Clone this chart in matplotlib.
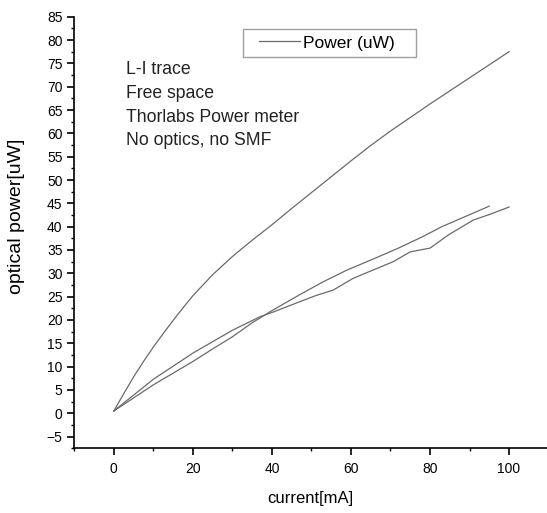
import matplotlib
matplotlib.use("Agg")
import matplotlib.pyplot as plt
from matplotlib.ticker import MultipleLocator
from matplotlib.legend_handler import HandlerLine2D

plt.rcParams['font.family'] = ['Liberation Sans', 'DejaVu Sans']

# Sweep 1 (upper, steep curve)
x_up = [0, 2.5, 5, 7.5, 10, 12.5, 15, 17.5, 20, 25, 30, 35, 40, 45, 50, 55, 60, 65, 70, 75, 80, 85, 90, 95, 100]
y_up = [0.5, 4.2, 7.8, 11.1, 14.2, 17.1, 19.9, 22.6, 25.2, 29.7, 33.6, 37.1, 40.4, 43.9, 47.3, 50.7,
        54.1, 57.4, 60.5, 63.4, 66.3, 69.1, 71.9, 74.7, 77.5]

# Sweep 2 (smooth lower curve, ends at 95 mA)
x_mid = [0, 10, 20, 25, 30, 35, 40, 47, 53, 59, 66, 72, 78, 83, 89, 95]
y_mid = [0.5, 6.1, 11.1, 13.8, 16.4, 19.4, 22.0, 25.4, 28.2, 30.7, 33.2, 35.4, 37.8, 40.0, 42.2, 44.4]

# Sweep 3 (bumpy lower curve, ends at 100 mA)
x_low = [0, 10, 20, 30, 37, 40, 47, 51, 55.5, 60.5, 65, 70.7, 75, 80, 84.6, 90.9, 95, 100]
y_low = [0.5, 7.3, 12.9, 17.8, 20.7, 21.6, 23.9, 25.2, 26.4, 28.9, 30.5, 32.5, 34.6, 35.4, 38.2, 41.4, 42.6, 44.2]

annotations = ["L-I trace", "Free space", "Thorlabs Power meter", "No optics, no SMF"]
series_label = "Power (uW)"
x_label = "current[mA]"
y_label = "optical power[uW]"

W, H = 547, 513
fig = plt.figure(figsize=(W / 100, H / 100), dpi=100)
left, top, bottom, right = 74.3, 16.7, 448.3, 547
ax = fig.add_axes([left / W, 1 - bottom / H, (right - left) / W, (bottom - top) / H])

lc = '#6a6a6a'
ax.plot(x_up, y_up, color=lc, lw=0.9, label=series_label)
ax.plot(x_mid, y_mid, color=lc, lw=0.9)
ax.plot(x_low, y_low, color=lc, lw=0.9)

ax.set_xlim(-10, 109.6)
ax.set_ylim(-7.5, 85)
ax.xaxis.set_major_locator(MultipleLocator(20))
ax.xaxis.set_minor_locator(MultipleLocator(10))
ax.yaxis.set_major_locator(MultipleLocator(5))
ax.yaxis.set_minor_locator(MultipleLocator(2.5))
ax.set_xticks([0, 20, 40, 60, 80, 100])

for s in ['top', 'right']:
    ax.spines[s].set_visible(False)
for s in ['left', 'bottom']:
    ax.spines[s].set_linewidth(1.2)

ax.tick_params(which='major', direction='out', length=5, width=1.2, labelsize=10, pad=3.5)
ax.tick_params(axis='x', which='major', pad=5)
ax.tick_params(which='minor', direction='out', length=2.5, width=1.0)

ax.set_xlabel(x_label, fontsize=12)
ax.set_ylabel(y_label, fontsize=14)
ax.xaxis.set_label_coords(0.5, -0.10)
ax.yaxis.set_label_coords(-0.104, 0.538)

ys = [74, 98, 121.5, 145]
for t, yb in zip(annotations, ys):
    fig.text(126 / W, 1 - yb / H, t, fontsize=12.7, va='baseline', ha='left', color='#222222')

fs = 12.5
lx0, ly0, lx1, ly1 = 242.7, 29.3, 415.7, 57.3
leg = ax.legend(loc='upper left', bbox_to_anchor=(lx0 / W, 1 - ly1 / H, (lx1 - lx0) / W, (ly1 - ly0) / H),
                bbox_transform=fig.transFigure, mode='expand', borderaxespad=0,
                fancybox=False, frameon=True, fontsize=fs, handlelength=2.95,
                handletextpad=0.17, borderpad=0.35,
                handler_map={plt.Line2D: HandlerLine2D(xpad=0.59)})
leg.get_frame().set_edgecolor('#888888')
leg.get_frame().set_linewidth(1.0)

fig.savefig('out.png', dpi=100)
